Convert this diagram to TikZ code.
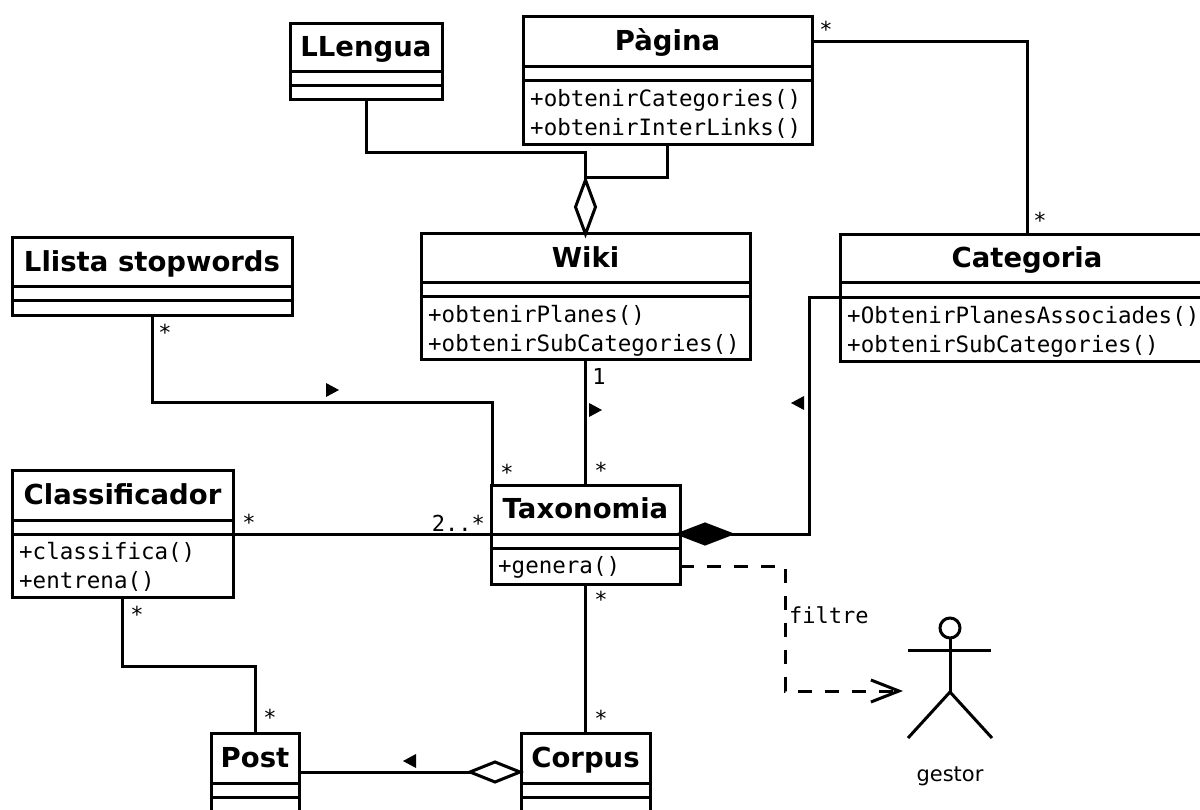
\documentclass[tikz,border=0pt]{standalone}
\usepackage{fontspec}
\setmainfont{DejaVu Sans}
\newfontfamily\opsfont{DejaVu Sans Mono}
\usetikzlibrary{shapes.geometric,arrows.meta}
\newcommand{\umlclass}[9]{% name x1 y1 x2 y2 l1 l2 title ops
  \pgfmathsetmacro{\cw}{#4-#2}\pgfmathsetmacro{\ch}{#5-#3}
  \pgfmathsetmacro{\cx}{(#2+#4)/2}\pgfmathsetmacro{\cy}{(#3+#5)/2}
  \pgfmathsetmacro{\ty}{(#3+#6)/2}
  \node[classbox,minimum width=\cw pt,minimum height=\ch pt] (#1) at (\cx,\cy) {};
  \node[classtitle] (#1-title) at (\cx,\ty) {#8};
  \draw[umlline] (#2,#6) -- (#4,#6) (#2,#7) -- (#4,#7);
  \node[classops,anchor=north west] (#1-ops) at (#2,#7) {#9};
}
\tikzset{
  umlline/.style={line width=3pt,line join=miter},
  classbox/.style={draw,line width=3pt,fill=white,inner sep=0pt,outer sep=0pt},
  classtitle/.style={font=\fontsize{27.5}{30}\selectfont\bfseries,inner sep=0pt,text height=21pt,text depth=0pt,yshift=1.5pt},
  classops/.style={font=\opsfont\fontsize{22.5}{29}\selectfont,align=left,inner xsep=7pt,inner ysep=8pt},
  mult/.style={font=\opsfont\fontsize{22}{24}\selectfont,inner sep=0pt},
  aggr/.style={diamond,draw,line width=3pt,fill=white,inner sep=0pt,outer sep=0pt,aspect=1},
  compo/.style={aggr,fill=black},
  dir/.style={fill=black},
  depend/.style={line width=3pt,dash pattern=on 14pt off 13pt},
}
\begin{document}
\begin{tikzpicture}[x=1pt,y=-1pt]
\clip (0,0) rectangle (1200,810);
\fill[white] (0,0) rectangle (1200,810);
\umlclass{lleng}{290}{24}{442}{100}{72}{86}{LLengua}{}
\umlclass{pagina}{523}{17}{812}{145}{67}{81}{Pàgina}{+obtenirCategories()\\+obtenirInterLinks()}
\umlclass{wiki}{421}{234}{750}{360}{283}{297}{Wiki}{+obtenirPlanes()\\+obtenirSubCategories()}
\umlclass{categ}{840}{235}{1214}{362}{283}{298}{Categoria}{+ObtenirPlanesAssociades()\\+obtenirSubCategories()}
\umlclass{stop}{12}{238}{292}{316}{287}{301}{Llista stopwords}{}
\umlclass{classif}{12}{470}{233}{597}{520}{534}{Classificador}{+classifica()\\+entrena()}
\umlclass{taxo}{491}{485}{680}{584}{534}{548}{Taxonomia}{+genera()}
\umlclass{post}{211}{733}{299}{830}{783}{797}{Post}{}
\umlclass{corpus}{521}{733}{650}{830}{783}{797}{Corpus}{}
% aggregation diamonds
\node[aggr,minimum width=20pt,minimum height=54pt] (dwiki) at (585.5,207) {};
\node[aggr,minimum width=50pt,minimum height=20pt] (dcorpus) at (495,772) {};
\node[compo,minimum width=52pt,minimum height=20pt] (dtaxo) at (705,534) {};
% helper points
\coordinate (j1) at (585.5,153);
\coordinate (j2) at (585.5,178);
\coordinate (pgA) at (812,42);
\coordinate (stB) at (492,402);
\coordinate (stC) at (122.5,666);
\coordinate (ctA) at (840,298);
\coordinate (ctB) at (809,298);
\coordinate (txL) at (491,534);
\coordinate (clR) at (233,534);
\coordinate (poR) at (299,772);
% connectors
\draw[umlline] (lleng.south) |- (j1) -- (dwiki.north);
\draw[umlline] (pagina.south) |- (j2);
\draw[umlline] (pgA) -| (categ.north);
\draw[umlline] (stop.south) |- (stB) -- (stB |- taxo.north);
\draw[umlline] (wiki.south) -- (taxo.north);
\draw[umlline] (ctA) -- (ctB) |- (dtaxo.east);
\draw[umlline] (clR) -- (txL);
\draw[umlline] (taxo.south) -- (corpus.north);
\draw[umlline] (classif.south) |- (stC) -| (post.north);
\draw[umlline] (poR) -- (dcorpus.west);
% dependency
\coordinate (gen) at (680,566);
\coordinate (bend) at (785,566);
\coordinate (actorL) at (903,691);
\draw[depend,-{Straight Barb[length=28pt,width=22pt,line width=3pt]}] (gen) -- (bend) |- (actorL);
\node[font=\opsfont\fontsize{22}{24}\selectfont,anchor=west,inner sep=0pt] (filtre) at (789,615) {filtre};
% direction triangles
\fill[dir] (339,390) -- (326,383) -- (326,397) -- cycle;
\fill[dir] (602,410) -- (589,403) -- (589,417) -- cycle;
\fill[dir] (791,403) -- (804,396) -- (804,410) -- cycle;
\fill[dir] (403,761) -- (416,754) -- (416,768) -- cycle;
% multiplicities
\node[mult] (m1) at (826,29) {*};
\node[mult] (m2) at (1040,220) {*};
\node[mult] (m3) at (165,332) {*};
\node[mult] (m4) at (507,472) {*};
\node[mult] (m5) at (599,376) {1};
\node[mult] (m6) at (601,470) {*};
\node[mult] (m7) at (249,522) {*};
\node[mult,anchor=east] (m8) at (485,523) {2..*};
\node[mult] (m9) at (601,599) {*};
\node[mult] (m10) at (601,718) {*};
\node[mult] (m11) at (137,614) {*};
\node[mult] (m12) at (270,717) {*};
% actor
\node[circle,draw,line width=3pt,minimum size=20pt,inner sep=0pt,outer sep=0pt] (head) at (950,628) {};
\coordinate (hip) at (950,692);
\coordinate (armL) at (908,650);
\coordinate (armR) at (991,650);
\coordinate (legL) at (908,738);
\coordinate (legR) at (992,738);
\draw[umlline] (head.south) -- (hip);
\draw[umlline] (armL) -- (armR);
\draw[umlline] (legL) -- (hip) -- (legR);
\node[font=\fontsize{21}{24}\selectfont,inner sep=0pt] (gestor) at (950,776) {gestor};
\end{tikzpicture}
\end{document}
